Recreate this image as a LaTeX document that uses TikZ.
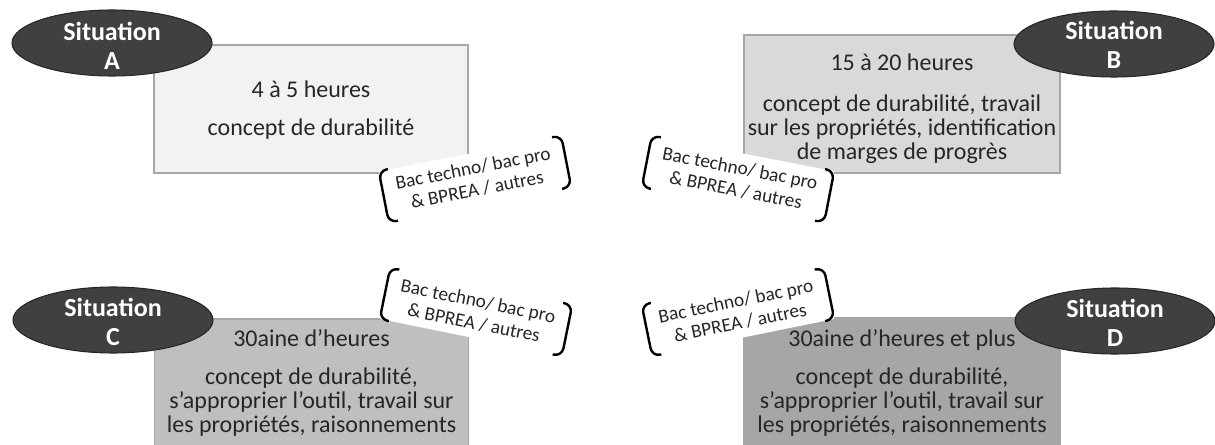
\documentclass[tikz,border=0pt]{standalone}
\usepackage{fontspec}
\setmainfont{Carlito}
\usetikzlibrary{shapes.geometric,calc}

\begin{document}
\begin{tikzpicture}[x=0.75pt, y=-0.75pt,
        box/.style={draw=black!35, line width=0.8pt, inner sep=0pt},
        boxtext/.style={text=black!85, align=center, inner sep=0pt,
            font=\fontsize{18}{18}\selectfont},
        situation/.style={ellipse, draw=black!85, line width=0.8pt, fill=black!75,
            minimum width=150pt, minimum height=49.5pt, inner sep=0pt},
        sittext/.style={text=white, align=center, inner sep=0pt,
            font=\bfseries\fontsize{19.5}{22}\selectfont},
        public/.style={fill=white, align=center, text=black!85, minimum width=139pt,
            minimum height=39pt, inner sep=0pt, font=\fontsize{14.5}{16.5}\selectfont},
        bracket/.style={line width=1.8pt, rounded corners=6pt}
    ]
    \useasboundingbox (0,0) rectangle (1215,445);
    % Boxes
    \node[box, fill=black!5, minimum width=235.5pt, minimum height=96pt] (boxA) at (311,109) {};
    \node[box, fill=black!15, minimum width=237pt, minimum height=103.5pt] (boxB) at (902,104) {};
    \node[box, fill=black!25, minimum width=236pt, minimum height=96pt] (boxC) at (311.5,383) {};
    \node[box, fill=black!35, minimum width=237pt, minimum height=96pt] (boxD) at (902,382) {};
    \node[boxtext] (hoursA) at (311,110) {4 à 5 heures\\[11pt] concept de durabilité};
    \node[boxtext] (hoursB) at (902,109)
        {15 à 20 heures\\[13pt] concept de durabilité, travail\\ sur les propriétés, identification\\ de marges de progrès};
    \node[boxtext] (hoursC) at (311.5,383)
        {30aine d’heures\\[10pt] concept de durabilité,\\ s’approprier l’outil, travail sur\\ les propriétés, raisonnements};
    \node[boxtext] (hoursD) at (902,383)
        {30aine d’heures et plus\\[10pt] concept de durabilité,\\ s’approprier l’outil, travail sur\\ les propriétés, raisonnements};
    % Situations
    \node[situation] (sitA) at (112,43) {};
    \node[situation] (sitB) at (1114,44) {};
    \node[situation] (sitC) at (113,320) {};
    \node[situation] (sitD) at (1115,321) {};
    \node[sittext] (nameA) at (112,46) {Situation\\A};
    \node[sittext] (nameB) at (1114,45) {Situation\\B};
    \node[sittext] (nameC) at (113,322) {Situation\\C};
    \node[sittext] (nameD) at (1115,323) {Situation\\D};
    % Public
    \node[public, rotate=11] (pubA) at (475,179) {Bac techno/ bac pro\\ \& BPREA / autres};
    \node[public, rotate=-11] (pubB) at (738,179) {Bac techno/ bac pro\\ \& BPREA / autres};
    \node[public, rotate=-11.5] (pubC) at (476,312) {Bac techno/ bac pro\\ \& BPREA / autres};
    \node[public, rotate=11.5] (pubD) at (738,312) {Bac techno/ bac pro\\ \& BPREA / autres};
    \foreach \p in {pubA,pubB,pubC,pubD}
    {
        \draw[bracket] ($(\p.north west)!7pt!(\p.north east)$) -- (\p.north west)
            -- (\p.south west) -- ($(\p.south west)!7pt!(\p.south east)$);
        \draw[bracket] ($(\p.north east)!7pt!(\p.north west)$) -- (\p.north east)
            -- (\p.south east) -- ($(\p.south east)!7pt!(\p.south west)$);
    }
\end{tikzpicture}
\end{document}
